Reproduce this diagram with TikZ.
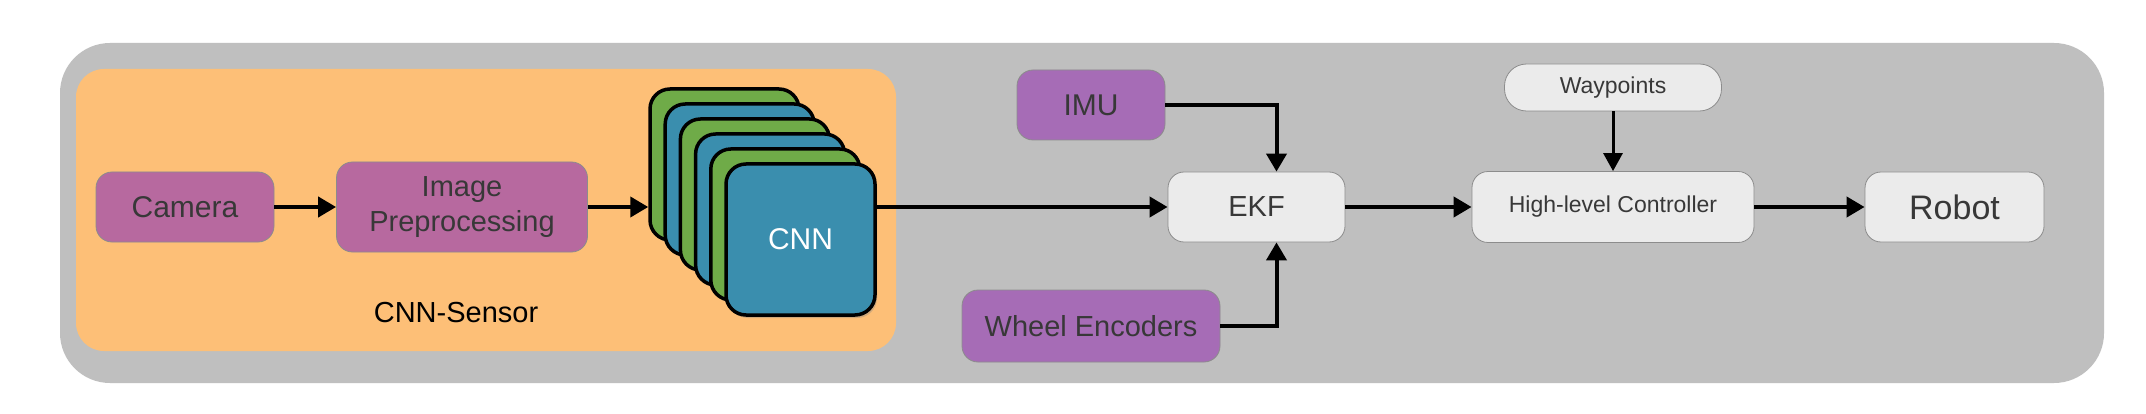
\documentclass[tikz,border=0pt]{standalone}
\usepackage{fontspec}
\setmainfont{Liberation Sans}
\usetikzlibrary{arrows.meta,shadows}
\definecolor{outergray}{HTML}{BFBFBF}
\definecolor{sensororange}{HTML}{FDBF77}
\definecolor{pinkpurple}{HTML}{B7699F}
\definecolor{violet}{HTML}{A66CB6}
\definecolor{lightbox}{HTML}{EBEBEB}
\definecolor{boxline}{HTML}{8C8C8C}
\definecolor{txt}{HTML}{383838}
\definecolor{cardgreen}{HTML}{6FAB48}
\definecolor{cardblue}{HTML}{3A8EAE}
\tikzset{
  base/.style={rectangle, rounded corners=16pt, draw=boxline, line width=0.8pt, text=txt, align=center, inner sep=0pt},
  pinkbox/.style={base, fill=pinkpurple},
  violetbox/.style={base, fill=violet},
  lightnode/.style={base, fill=lightbox},
  card/.style={rectangle, rounded corners=20pt, draw=black, line width=3.5pt, minimum width=149pt, minimum height=151pt, inner sep=0pt,
     drop shadow={shadow xshift=2pt, shadow yshift=-3pt, opacity=0.35}},
  conn/.style={line width=4pt, -{Triangle[length=18pt,width=20pt]}},
  thinconn/.style={line width=3pt, -{Triangle[length=18pt,width=19pt]}},
}
\begin{document}
\begin{tikzpicture}[x=1pt,y=-1pt]
\useasboundingbox (0,0) rectangle (2146,414);
\fill[white] (0,0) rectangle (2146,414);
% containers
\fill[outergray, rounded corners=50pt] (60,43) rectangle (2104,383);
\fill[sensororange, rounded corners=28pt] (76,69) rectangle (896,351);
\node[text=black, font=\fontsize{29}{34}\selectfont] (sensorlabel) at (456,313) {CNN-Sensor};
% left chain
\node[pinkbox, minimum width=178pt, minimum height=70pt, font=\fontsize{30}{35}\selectfont] (cam) at (185,207) {Camera};
\node[pinkbox, minimum width=251pt, minimum height=90pt, font=\fontsize{29}{35}\selectfont] (ip) at (462,207) {Image\\Preprocessing};
% CNN stack
\node[card, fill=cardgreen] (c1) at (724.5,164.5) {};
\node[card, fill=cardblue]  (c2) at (739.7,179.5) {};
\node[card, fill=cardgreen] (c3) at (754.9,194.5) {};
\node[card, fill=cardblue]  (c4) at (770.1,209.5) {};
\node[card, fill=cardgreen] (c5) at (785.3,224.5) {};
\node[card, fill=cardblue, text=white, font=\fontsize{30}{35}\selectfont] (cnn) at (800.5,239.5) {CNN};
% right part
\node[violetbox, minimum width=148pt, minimum height=70pt, font=\fontsize{30}{35}\selectfont] (imu) at (1091,105) {IMU};
\node[lightnode, minimum width=177pt, minimum height=70pt, font=\fontsize{29}{35}\selectfont] (ekf) at (1256.5,207) {EKF};
\node[violetbox, minimum width=258pt, minimum height=72pt, font=\fontsize{29}{35}\selectfont] (we) at (1091,326) {Wheel Encoders};
\node[lightnode, minimum width=282pt, minimum height=71pt, font=\fontsize{23}{28}\selectfont] (hlc) at (1613,207) {High-level Controller};
\node[lightnode, rounded corners=22pt, minimum width=217pt, minimum height=47pt, font=\fontsize{23}{28}\selectfont] (wp) at (1613,87.5) {Waypoints};
\node[lightnode, minimum width=179pt, minimum height=70pt, font=\fontsize{34}{40}\selectfont] (robot) at (1954.5,207) {Robot};
\coordinate (ekftop) at ([xshift=20pt]ekf.north);
\coordinate (ekfbot) at ([xshift=20pt]ekf.south);
% connectors
\draw[conn] (cam.east) -- (ip.west);
\draw[conn] (ip.east) -- (c1.west |- ip.east);
\draw[conn] (cnn.east |- ekf.west) -- (ekf.west);
\draw[conn] (imu.east) -| (ekftop);
\draw[conn] (we.east) -| (ekfbot);
\draw[conn] (ekf.east) -- (hlc.west);
\draw[thinconn] (wp.south) -- (hlc.north);
\draw[conn] (hlc.east) -- (robot.west);
\end{tikzpicture}
\end{document}
